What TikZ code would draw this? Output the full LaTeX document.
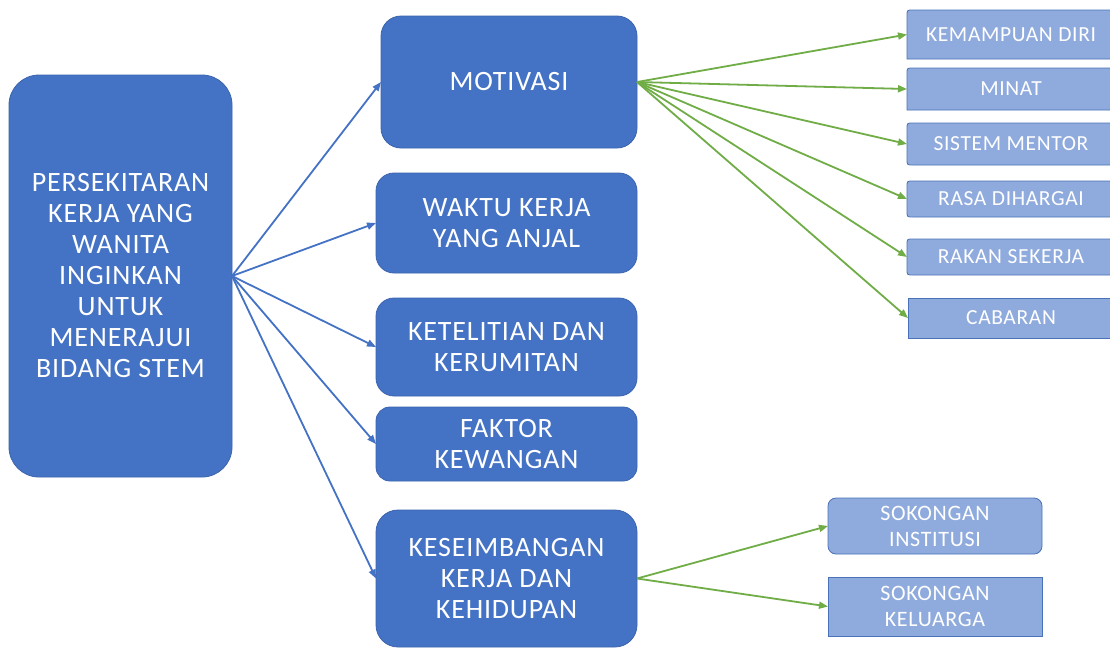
\documentclass[tikz,border=0pt]{standalone}
\usepackage{fontspec}
\setmainfont{Carlito}[LetterSpace=3]
\usetikzlibrary{arrows.meta}
\definecolor{bigfill}{HTML}{4472C4}
\definecolor{bigdraw}{HTML}{3B64AE}
\definecolor{smallfill}{HTML}{8FAADC}
\definecolor{smalldraw}{HTML}{4A72B8}
\definecolor{garrow}{HTML}{70AD47}
\definecolor{barrow}{HTML}{4472C4}
\pgfdeclarelayer{bg}
\pgfsetlayers{bg,main}
\begin{document}
\begin{tikzpicture}[x=1pt,y=-1pt,
  bigbox/.style={rectangle, fill=bigfill, draw=bigdraw, line width=0.8pt, text=white, align=center, inner sep=0pt, outer sep=0pt, font=\fontsize{28}{31}\selectfont},
  smalltext/.style={rectangle, inner sep=0pt, outer sep=0pt, text=white, align=center, minimum width=208pt, font=\fontsize{21.5}{26}\selectfont},
  soktext/.style={rectangle, inner sep=0pt, outer sep=0pt, text=white, align=center, minimum width=214pt, font=\fontsize{22}{26}\selectfont},
  smallshape/.style={fill=smallfill, draw=smalldraw, line width=0.8pt},
  barr/.style={draw=barrow, line width=1.8pt, -{Triangle[length=9pt,width=7pt]}},
  garr/.style={draw=garrow, line width=1.8pt, -{Triangle[length=9pt,width=7pt]}}]
\clip (0,0) rectangle (1110,648);

% left and middle boxes
\node[bigbox, minimum width=223pt, minimum height=402pt, rounded corners=30pt] (main) at (120.5,276)
  {PERSEKITARAN\\KERJA YANG\\WANITA\\INGINKAN\\UNTUK\\MENERAJUI\\BIDANG STEM};
\node[bigbox, minimum width=256pt, minimum height=132pt, rounded corners=20pt] (mot) at (509,82) {MOTIVASI};
\node[bigbox, minimum width=261pt, minimum height=100pt, rounded corners=18pt] (wak) at (506.5,223) {WAKTU KERJA\\YANG ANJAL};
\node[bigbox, minimum width=261pt, minimum height=98pt, rounded corners=18pt] (ket) at (506.5,347) {KETELITIAN DAN\\KERUMITAN};
\node[bigbox, minimum width=261pt, minimum height=74pt, rounded corners=14pt] (fak) at (506.5,444) {FAKTOR\\KEWANGAN};
\node[bigbox, minimum width=261pt, minimum height=137pt, rounded corners=22pt] (kes) at (506.5,578.5) {KESEIMBANGAN\\KERJA DAN\\KEHIDUPAN};

% right small boxes (text nodes)
\node[smalltext, minimum height=49pt] (k1) at (1011,34.5) {KEMAMPUAN DIRI};
\node[smalltext, minimum height=42pt] (k2) at (1011,89) {MINAT};
\node[smalltext, minimum height=42pt] (k3) at (1011,144) {SISTEM MENTOR};
\node[smalltext, minimum height=36pt] (k4) at (1011,199) {RASA DIHARGAI};
\node[smalltext, minimum height=36pt] (k5) at (1011,257) {RAKAN SEKERJA};
\node[smalltext, minimum height=40pt, minimum width=206pt] (k6) at (1011,318) {CABARAN};
\node[soktext, minimum height=56pt] (s1) at (935,526) {SOKONGAN\\INSTITUSI};
\node[soktext, minimum height=59pt] (s2) at (935,606.5) {SOKONGAN\\KELUARGA};

\begin{pgfonlayer}{bg}
\fill[white] (0,0) rectangle (1110,648);
\path[smallshape] (k1.south west) -- ([yshift=-6pt]k1.north west) .. controls (k1.north west) .. ([xshift=6pt]k1.north west) -- (k1.north east) -- (k1.south east) -- cycle;
\path[smallshape] (k2.south west) -- ([yshift=-6pt]k2.north west) .. controls (k2.north west) .. ([xshift=6pt]k2.north west) -- (k2.north east) -- (k2.south east) -- cycle;
\path[smallshape] (k3.north east) -- ([xshift=6pt]k3.north west) .. controls (k3.north west) .. ([yshift=-6pt]k3.north west) -- ([yshift=6pt]k3.south west) .. controls (k3.south west) .. ([xshift=6pt]k3.south west) -- (k3.south east) -- cycle;
\path[smallshape] (k4.north east) -- ([xshift=6pt]k4.north west) .. controls (k4.north west) .. ([yshift=-6pt]k4.north west) -- ([yshift=6pt]k4.south west) .. controls (k4.south west) .. ([xshift=6pt]k4.south west) -- (k4.south east) -- cycle;
\path[smallshape] (k5.north east) -- ([xshift=6pt]k5.north west) .. controls (k5.north west) .. ([yshift=-6pt]k5.north west) -- ([yshift=6pt]k5.south west) .. controls (k5.south west) .. ([xshift=6pt]k5.south west) -- (k5.south east) -- cycle;
\path[smallshape] (k6.north west) rectangle (k6.south east);
\path[smallshape, rounded corners=8pt] (s1.north west) rectangle (s1.south east);
\path[smallshape] (s2.north west) rectangle (s2.south east);
\end{pgfonlayer}

% blue connectors
\draw[barr] (main.east) -- (mot.west);
\draw[barr] (main.east) -- (wak.west);
\draw[barr] (main.east) -- (ket.west);
\draw[barr] (main.east) -- (fak.west);
\draw[barr] (main.east) -- (kes.west);

% green connectors
\draw[garr] (mot.east) -- (k1.west);
\draw[garr] (mot.east) -- (k2.west);
\draw[garr] (mot.east) -- (k3.west);
\draw[garr] (mot.east) -- (k4.west);
\draw[garr] (mot.east) -- (k5.west);
\draw[garr] (mot.east) -- (k6.west);
\draw[garr] (kes.east) -- (s1.west);
\draw[garr] (kes.east) -- (s2.west);
\end{tikzpicture}
\end{document}
